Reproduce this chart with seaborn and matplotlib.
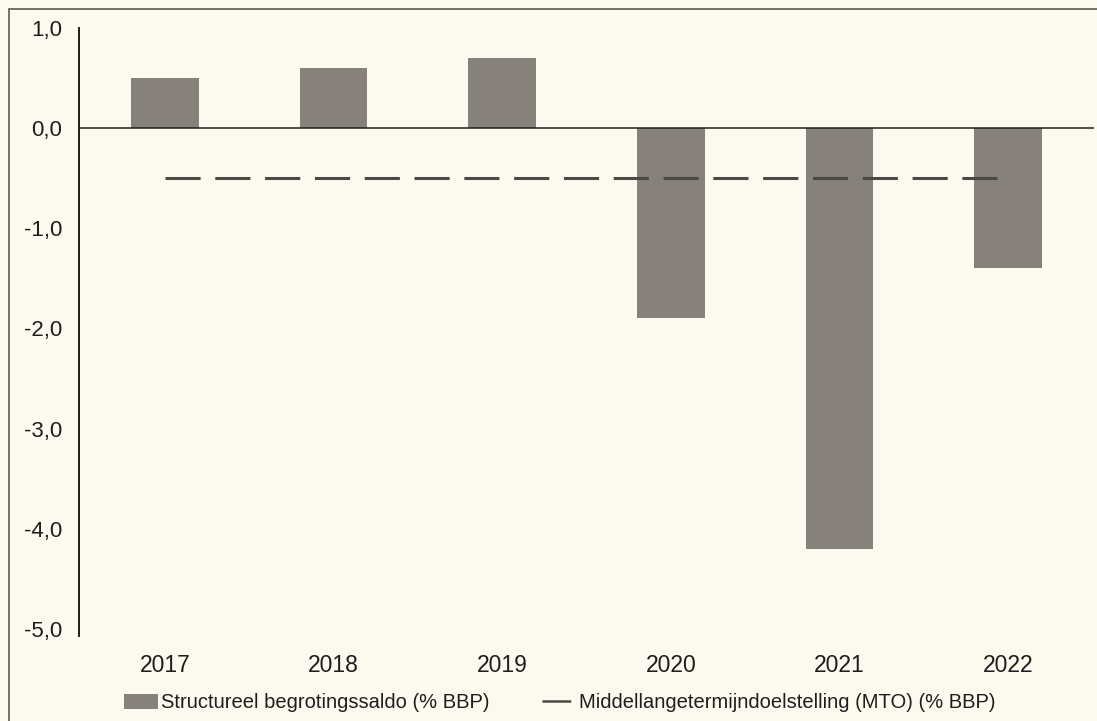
import matplotlib
matplotlib.use("Agg")
import matplotlib.pyplot as plt
import seaborn as sns
import pandas as pd
from matplotlib.patches import Rectangle

years = ["2017", "2018", "2019", "2020", "2021", "2022"]
saldo = [0.5, 0.6, 0.7, -1.9, -4.2, -1.4]
mto = [-0.5, -0.5, -0.5, -0.5, -0.5, -0.5]
yticks = [1.0, 0.0, -1.0, -2.0, -3.0, -4.0, -5.0]
ytick_labels = ["1,0", "0,0", "-1,0", "-2,0", "-3,0", "-4,0", "-5,0"]
label_bar = "Structureel begrotingssaldo (% BBP)"
label_line = "Middellangetermijndoelstelling (MTO) (% BBP)"

df = pd.DataFrame({"jaar": years, "saldo": saldo, "mto": mto})

sns.set_style("white")
plt.rcParams["font.family"] = ["Liberation Sans", "DejaVu Sans"]

BG = "#fcfaef"
BAR = "#86817a"
LINE = "#4a4946"
TXT = "#1e1e1e"

fig = plt.figure(figsize=(10.97, 7.21), dpi=100, facecolor=BG)
ax = fig.add_axes([79 / 1097, 1 - 636 / 721, (1094 - 79) / 1097, (636 - 28) / 721])
ax.set_facecolor(BG)

sns.barplot(data=df, x="jaar", y="saldo", color=BAR, width=0.40,
            saturation=1, ax=ax, label=label_bar, edgecolor=BAR, linewidth=0)
sns.lineplot(data=df, x="jaar", y="mto", color=LINE, linewidth=2.2,
             dashes=False, ax=ax, label=label_line)
ln = ax.get_lines()[-1]
ln.set_dashes((11.5, 4.8))

ax.axhline(0, color=TXT, linewidth=1.1, zorder=3)

ax.set_xlim(-0.51, 5.51)
ax.set_ylim(-5.07, 1.0)
ax.set_yticks(yticks)
ax.set_yticklabels(ytick_labels)
ax.set_xlabel("")
ax.set_ylabel("")

for s in ["top", "right", "bottom"]:
    ax.spines[s].set_visible(False)
ax.spines["left"].set_color(TXT)
ax.spines["left"].set_linewidth(1.4)

ax.tick_params(axis="y", length=0, pad=12, labelsize=16, labelcolor=TXT)
ax.tick_params(axis="x", length=0, pad=13, labelsize=16.5, labelcolor=TXT)

handles, labels = ax.get_legend_handles_labels()
order = [labels.index(label_bar), labels.index(label_line)]
handles = [handles[i] for i in order]
labels = [labels[i] for i in order]
leg = ax.legend(handles, labels, loc="center", bbox_to_anchor=(560 / 1097, 1 - 703 / 721),
                bbox_transform=fig.transFigure, ncol=2, frameon=False, fontsize=14.5,
                handlelength=1.7, handletextpad=0.15, columnspacing=2.6)
for t in leg.get_texts():
    t.set_color(TXT)
leg.legend_handles[1].set_linewidth(1.8)

fig.patches.append(Rectangle((9 / 1097, -0.05), 1.2, 1 - 9 / 721 + 0.05,
                             transform=fig.transFigure, fill=False,
                             edgecolor="#5a5955", linewidth=1.2, zorder=0))

fig.savefig("out.png", dpi=100, facecolor=BG)
